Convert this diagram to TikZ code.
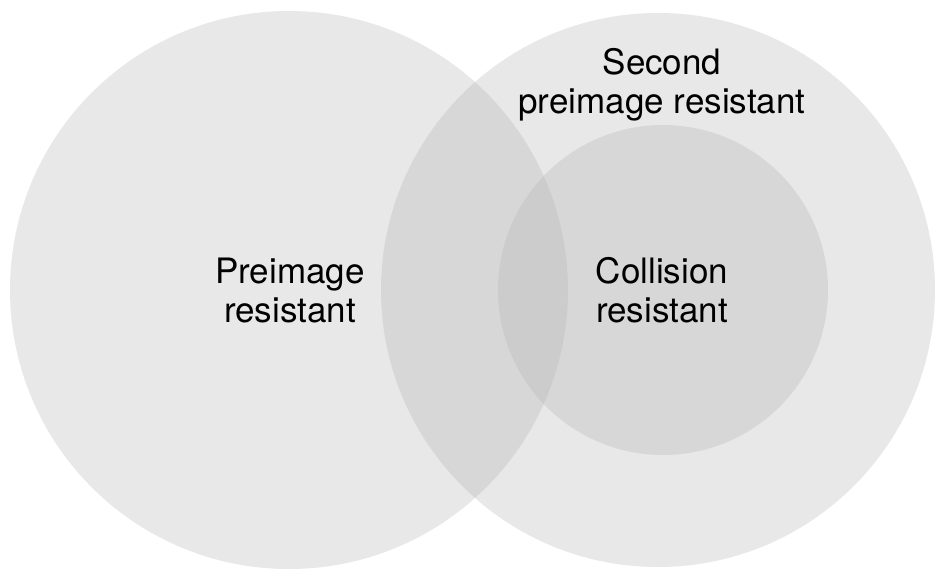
\documentclass[tikz,border=0pt]{standalone}
\usepackage{fontspec}
\setmainfont{TeX Gyre Heros}
\definecolor{venn}{RGB}{179,179,179}
\begin{document}
\begin{tikzpicture}[x=1pt,y=-1pt,
  setfill/.style={fill=venn,fill opacity=0.3,draw=none},
  lbl/.style={align=center,inner sep=0pt,anchor=base,font=\fontsize{35}{39}\selectfont,text=black}]
\useasboundingbox (0,0) rectangle (935,570);
\fill[white] (0,0) rectangle (935,570);
\path[setfill] (289,290) circle[radius=279pt];
\path[setfill] (658,290) circle[radius=277pt];
\path[setfill] (663,290) circle[radius=165pt];
\node[lbl] (pre) at (290,322) {Preimage\\resistant};
\node[lbl] (sec) at (662,113) {Second\\preimage resistant};
\node[lbl] (col) at (662,322) {Collision\\resistant};
\end{tikzpicture}
\end{document}
